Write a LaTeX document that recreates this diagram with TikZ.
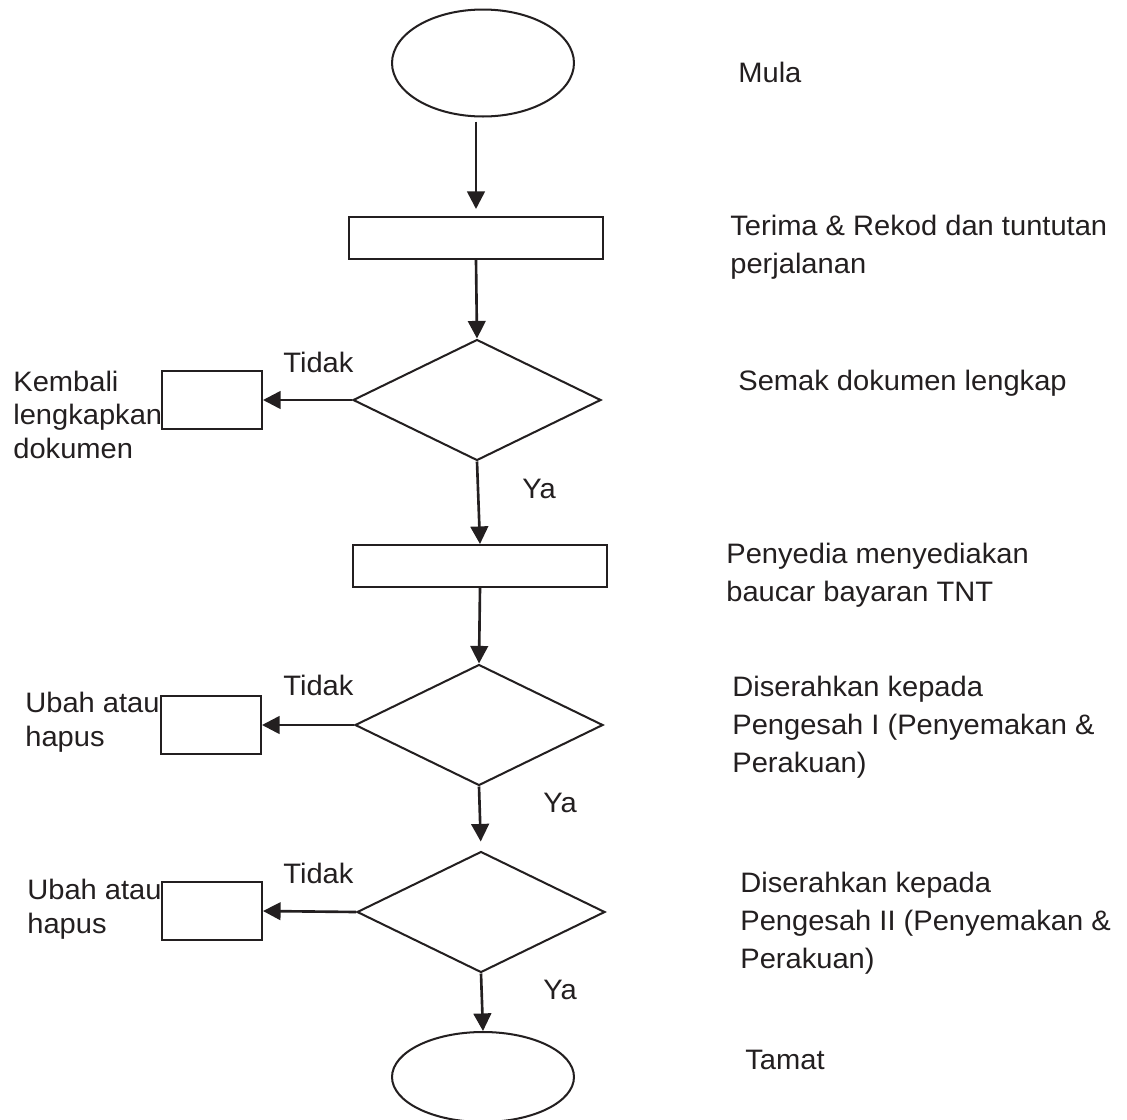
\documentclass[tikz,border=0pt]{standalone}
\usepackage{fontspec}
\setmainfont{Liberation Sans}[FakeStretch=1.035]
\usetikzlibrary{shapes.geometric,arrows.meta}
\definecolor{ink}{RGB}{35,31,32}
\begin{document}
\begin{tikzpicture}[x=0.02cm,y=-0.02cm,
  shp/.style={draw=ink, line width=1.15pt, fill=white, inner sep=0pt},
  term/.style={shp, ellipse, minimum width=3.64cm, minimum height=2.14cm},
  procbox/.style={shp, rectangle, minimum width=5.08cm, minimum height=0.84cm},
  decis/.style={shp, diamond, minimum width=4.96cm, minimum height=2.42cm},
  sidebox/.style={shp, rectangle, minimum width=2.0cm, minimum height=1.16cm},
  flow/.style={draw=ink, line width=1.5pt, -{Triangle[length=10pt,width=10pt]}},
  lbl/.style={anchor=base west, inner sep=0pt, text=ink, align=left,
    font=\fontsize{16}{21.6}\selectfont},
  llbl/.style={lbl, font=\fontsize{16}{18.8}\selectfont}
]
\clip (0,0) rectangle (1127,1120);
\fill[white] (0,0) rectangle (1127,1120);

% shapes
\node[term] (start) at (483,63) {};
\node[procbox] (p1) at (476,238) {};
\node[decis] (d1) at (477,400) {};
\node[sidebox] (s1) at (212,400) {};
\node[procbox] (p2) at (480,566) {};
\node[decis] (d2) at (479,725) {};
\node[sidebox] (s2) at (211,725) {};
\node[decis] (d3) at (481,912) {};
\node[sidebox] (s3) at (212,911) {};
\node[term, minimum height=1.8cm] (end) at (483,1077) {};

% connectors
\draw[flow, shorten <=0.08cm, shorten >=0.14cm] (start.south -| p1.north) -- (p1.north);
\draw[flow] (p1.south) -- (d1.north);
\draw[flow] (d1.west) -- (s1.east);
\draw[flow] (d1.south) -- (p2.north);
\draw[flow] (p2.south) -- (d2.north);
\draw[flow] (d2.west) -- (s2.east);
\draw[flow, shorten >=0.18cm] (d2.south) -- (d3.north);
\draw[flow] (d3.west) -- (s3.east);
\draw[flow] (d3.south) -- (end.north);

% right column labels (anchored at the baseline of the last line)
\node[lbl] (tmula) at (738,82) {Mula};
\node[lbl] (tterima) at (730,273) {Terima \& Rekod dan tuntutan\\perjalanan};
\node[lbl] (tsemak) at (738,390) {Semak dokumen lengkap};
\node[lbl] (tpenyedia) at (726,601) {Penyedia menyediakan\\baucar bayaran TNT};
\node[lbl] (tpeng1) at (732,772) {Diserahkan kepada\\Pengesah I (Penyemakan \&\\Perakuan)};
\node[lbl] (tpeng2) at (740,968) {Diserahkan kepada\\Pengesah II (Penyemakan \&\\Perakuan)};
\node[lbl] (ttamat) at (745,1069) {Tamat};

% left labels
\node[llbl] (tkembali) at (13,458) {Kembali\\lengkapkan\\dokumen};
\node[llbl] (tubah1) at (25,746) {Ubah atau\\hapus};
\node[llbl] (tubah2) at (27,933) {Ubah atau\\hapus};

% branch labels
\node[lbl] (tidak1) at (283,372) {Tidak};
\node[lbl] (tidak2) at (283,695) {Tidak};
\node[lbl] (tidak3) at (283,883) {Tidak};
\node[lbl] (ya1) at (522,498) {Ya};
\node[lbl] (ya2) at (543,812) {Ya};
\node[lbl] (ya3) at (543,999) {Ya};
\end{tikzpicture}
\end{document}
